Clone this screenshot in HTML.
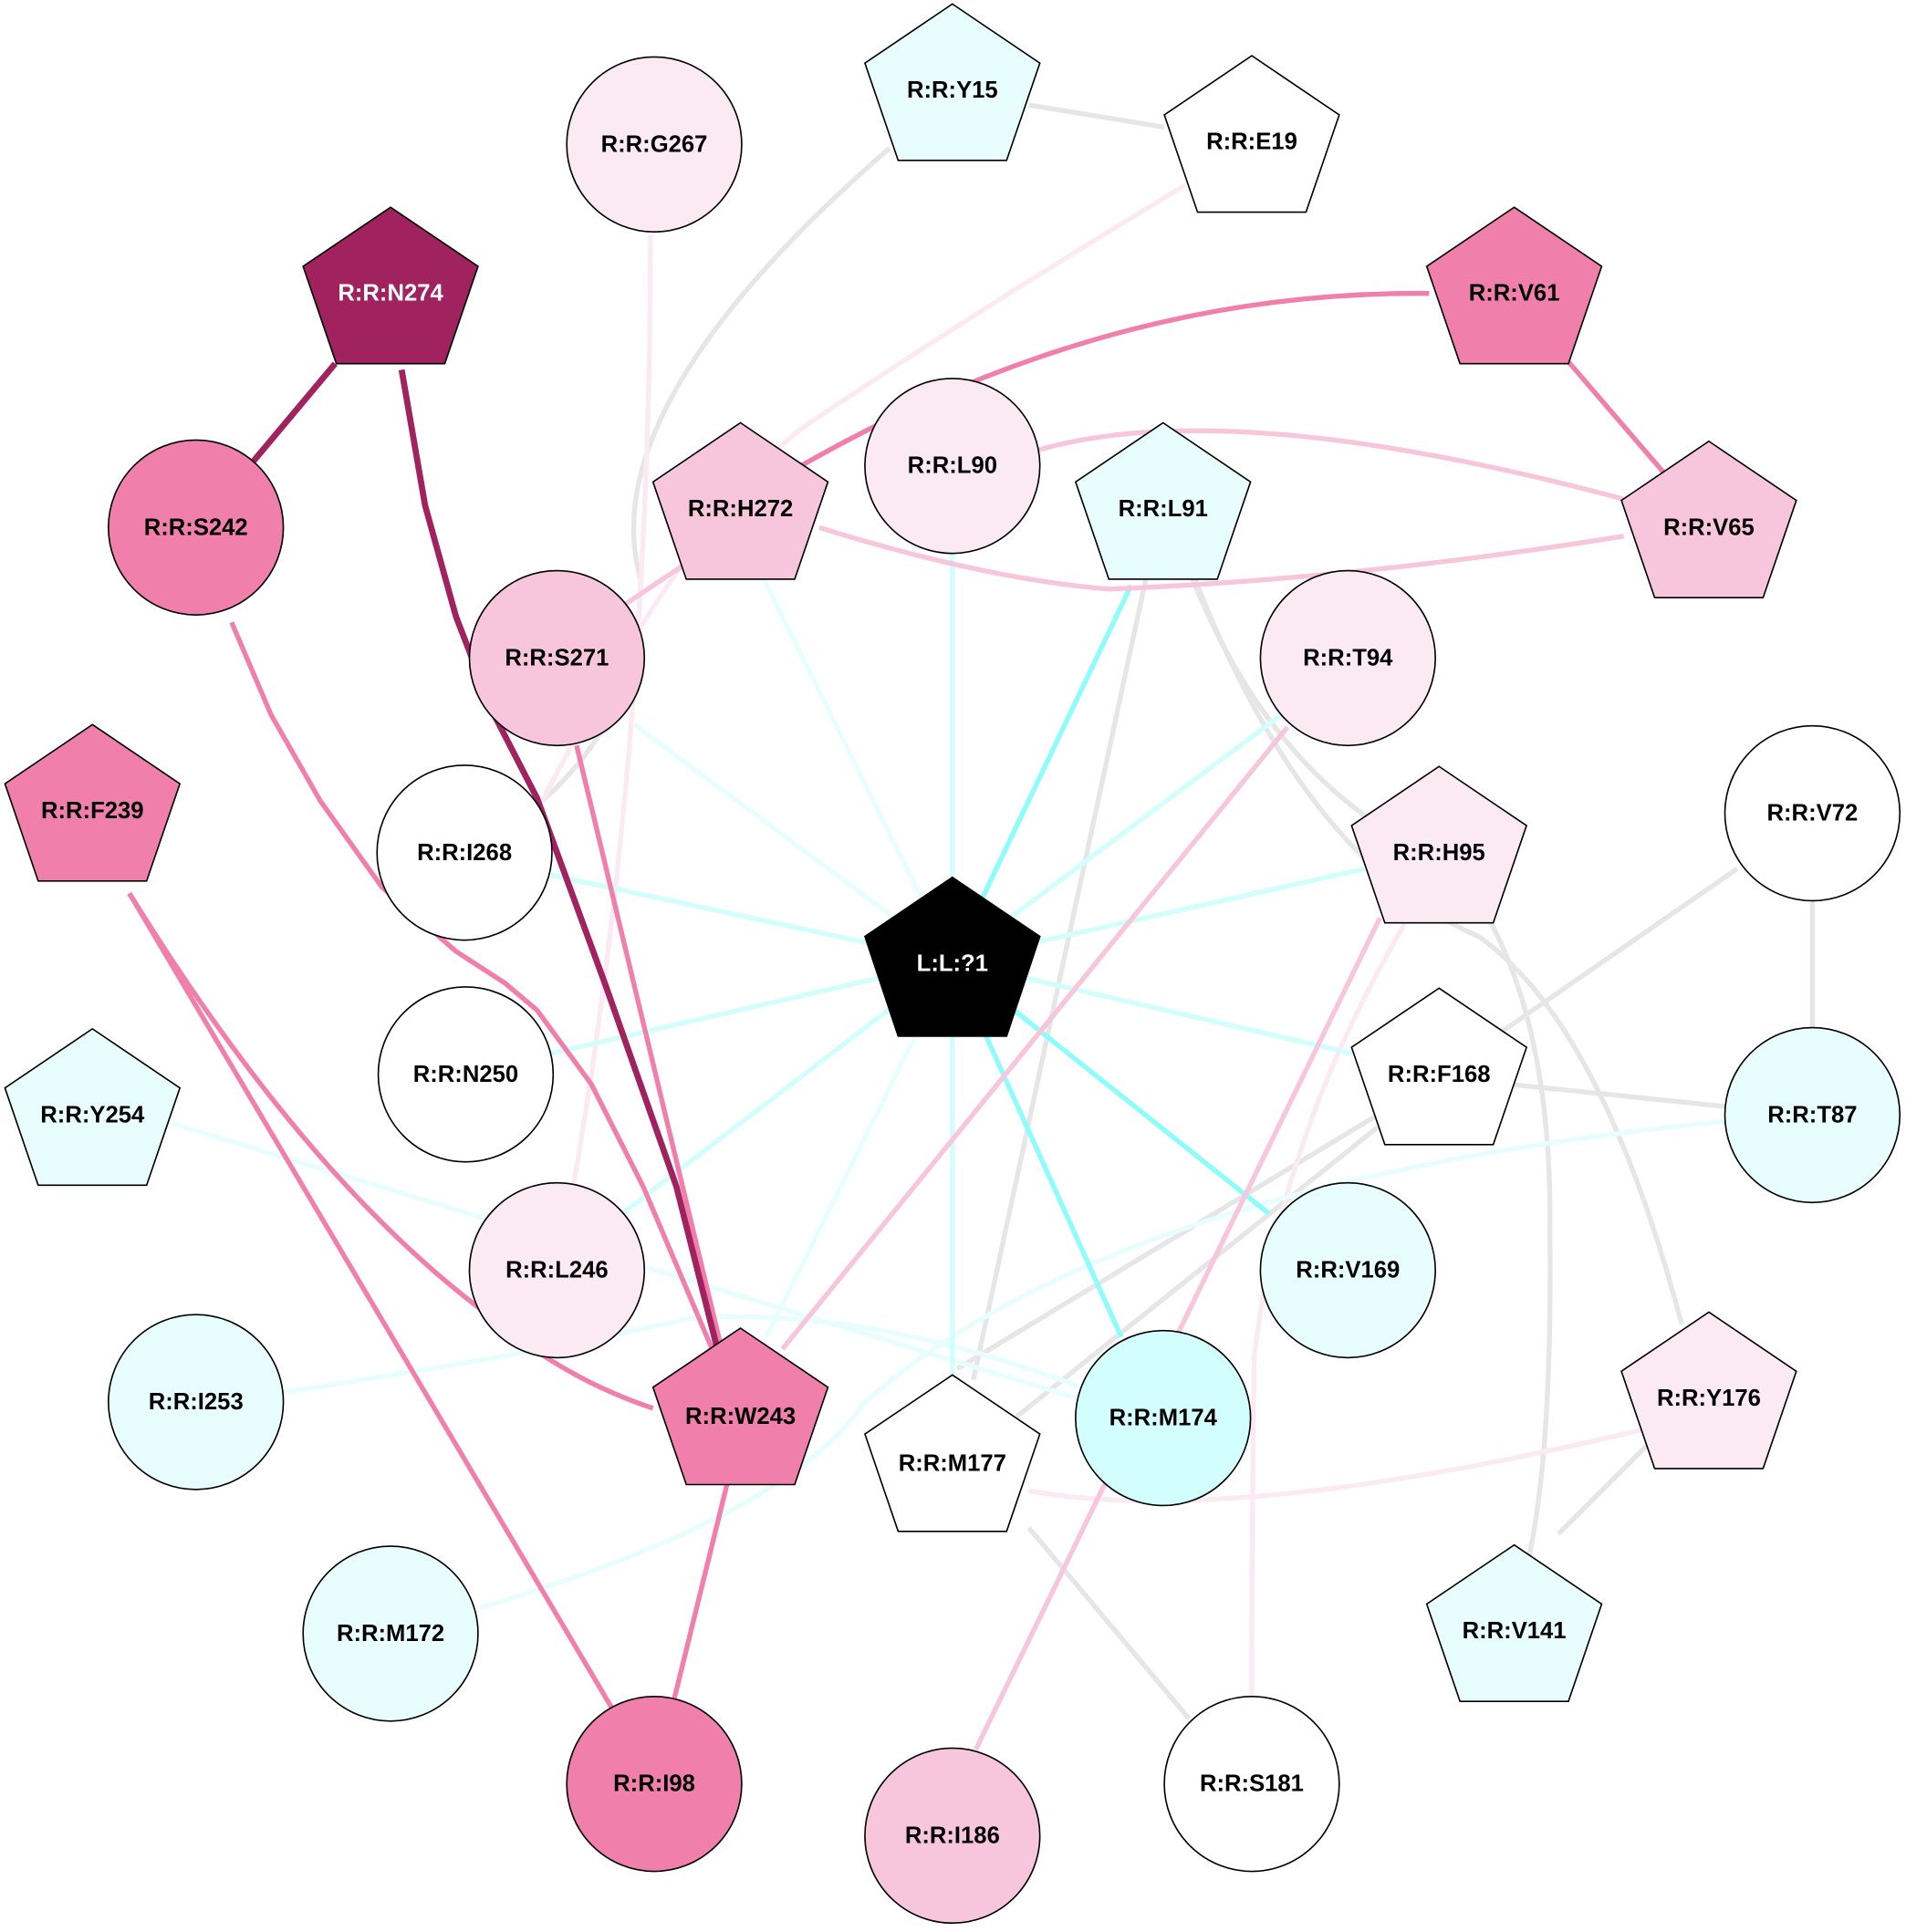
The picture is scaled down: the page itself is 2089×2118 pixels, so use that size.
<!DOCTYPE html>
<html><head><meta charset="utf-8"><style>html,body{margin:0;padding:0;background:#fff}svg{display:block}</style></head>
<body>
<svg width="2089" height="2118" viewBox="0 0 1547 1568" xmlns="http://www.w3.org/2000/svg" font-family="Liberation Sans, Arial, sans-serif" font-weight="bold" font-size="19">
<rect width="1547" height="1568" fill="#fff"/>
<g fill="none" stroke-width="4" stroke-linejoin="round">
<g stroke="#e6e6e6">
<line x1="835" y1="85" x2="945" y2="103"/>
<path d="M722,120 Q480,330 520,470 Q520,580 440,650"/>
<line x1="930" y1="470" x2="790" y2="1120"/>
<path d="M968,470 Q1020,600 1112,665"/>
<path d="M970,470 Q1060,700 1200,760 Q1300,830 1365,1075"/>
<path d="M1208,745 Q1260,840 1258,1000 Q1260,1180 1240,1268"/>
<line x1="1410" y1="705" x2="1215" y2="840"/>
<line x1="1471" y1="731" x2="1471" y2="834"/>
<line x1="1225" y1="880" x2="1400" y2="898"/>
<line x1="1118" y1="905" x2="777" y2="1111"/>
<line x1="1118" y1="915" x2="825" y2="1150"/>
<line x1="835" y1="1240" x2="965" y2="1395"/>
<line x1="1340" y1="1170" x2="1265" y2="1245"/>
</g>
<g stroke="#fbeaf2">
<path d="M962,150 Q780,260 650,348 Q560,420 440,650"/>
<path d="M528,190 Q528,600 465,965"/>
<path d="M1140,750 Q1040,920 1018,1100 Q1016,1250 1016,1378"/>
<path d="M1335,1160 Q1000,1240 835,1210"/>
</g>
<g stroke="#e8fefe">
<path d="M1400,910 Q900,960 700,1140 Q640,1230 390,1305"/>
<line x1="140" y1="912" x2="875" y2="1135"/>
<path d="M230,1130 Q430,1100 560,1070 Q700,1060 875,1125"/>
</g>
<line x1="773" y1="780" x2="620" y2="470" stroke="#e8fefe"/>
<line x1="773" y1="780" x2="773" y2="449" stroke="#d2fefe"/>
<line x1="773" y1="780" x2="918" y2="475" stroke="#8ffcfc"/>
<line x1="773" y1="780" x2="1040" y2="580" stroke="#d2fefe"/>
<line x1="773" y1="780" x2="1108" y2="705" stroke="#d2fefe"/>
<line x1="773" y1="780" x2="1098" y2="855" stroke="#d2fefe"/>
<line x1="773" y1="780" x2="1030" y2="985" stroke="#8ffcfc"/>
<line x1="773" y1="780" x2="910" y2="1085" stroke="#8ffcfc"/>
<line x1="773" y1="780" x2="773" y2="1116" stroke="#d2fefe"/>
<line x1="773" y1="780" x2="622" y2="1085" stroke="#e8fefe"/>
<line x1="773" y1="780" x2="505" y2="985" stroke="#d2fefe"/>
<line x1="773" y1="780" x2="447" y2="855" stroke="#d2fefe"/>
<line x1="773" y1="780" x2="447" y2="710" stroke="#d2fefe"/>
<line x1="773" y1="780" x2="515" y2="588" stroke="#e8fefe"/>
<g stroke="#f7c6dc">
<path d="M843,365 Q1000,320 1318,405"/>
<path d="M665,428 Q800,470 900,478 Q1100,470 1318,435"/>
<line x1="560" y1="455" x2="508" y2="490"/>
<line x1="1045" y1="590" x2="635" y2="1095"/>
<line x1="1120" y1="745" x2="792" y2="1420"/>
</g>
<g stroke="#f07fac">
<path d="M1160,238 Q900,235 650,378"/>
<line x1="1270" y1="290" x2="1350" y2="383"/>
<polyline points="188,505 220,580 260,650 310,720 370,772 410,798 436,820 480,880 522,963 578,1095"/>
<line x1="468" y1="605" x2="585" y2="1092"/>
<path d="M105,725 Q250,960 400,1070 Q460,1120 530,1143"/>
<line x1="105" y1="725" x2="497" y2="1387"/>
<line x1="590" y1="1205" x2="547" y2="1380"/>
</g>
<g stroke="#a0225e" stroke-width="5">
<line x1="272" y1="295" x2="205" y2="375"/>
<polyline points="326,300 345,410 370,500 400,578 436,648 492,801 549,963 583,1098"/>
</g>
</g>
<g stroke="#000" stroke-width="1.2">
<circle cx="531" cy="117" r="71" fill="#fbeaf2"/>
<circle cx="159" cy="428" r="71" fill="#f07fac"/>
<circle cx="773" cy="378" r="71" fill="#fbeaf2"/>
<circle cx="452" cy="534" r="71" fill="#f7c6dc"/>
<circle cx="1094" cy="534" r="71" fill="#fbeaf2"/>
<circle cx="377" cy="692" r="71" fill="#fff"/>
<circle cx="1471" cy="660" r="71" fill="#fff"/>
<circle cx="378" cy="872" r="71" fill="#fff"/>
<circle cx="1471" cy="905" r="71" fill="#e8fefe"/>
<circle cx="452" cy="1031" r="71" fill="#fbeaf2"/>
<circle cx="1094" cy="1031" r="71" fill="#e8fefe"/>
<circle cx="159" cy="1138" r="71" fill="#e8fefe"/>
<circle cx="944" cy="1151" r="71" fill="#d2fefe"/>
<circle cx="317" cy="1326" r="71" fill="#e8fefe"/>
<circle cx="531" cy="1448" r="71" fill="#f07fac"/>
<circle cx="773" cy="1490" r="71" fill="#f7c6dc"/>
<circle cx="1016" cy="1448" r="71" fill="#fff"/>
<polygon points="773,3 844,51 817,130 729,130 702,51" fill="#e8fefe"/>
<polygon points="1016,45 1087,93 1060,172 972,172 945,93" fill="#fff"/>
<polygon points="317,168 388,216 361,295 273,295 246,216" fill="#a0225e"/>
<polygon points="1229,168 1300,216 1273,295 1185,295 1158,216" fill="#f07fac"/>
<polygon points="601,343 672,391 645,470 557,470 530,391" fill="#f7c6dc"/>
<polygon points="944,343 1015,391 988,470 900,470 873,391" fill="#e8fefe"/>
<polygon points="1387,358 1458,406 1431,485 1343,485 1316,406" fill="#f7c6dc"/>
<polygon points="75,588 146,636 119,715 31,715 4,636" fill="#f07fac"/>
<polygon points="1168,622 1239,670 1212,749 1124,749 1097,670" fill="#fbeaf2"/>
<polygon points="773,712 844,760 817,841 729,841 702,760" fill="#000"/>
<polygon points="1168,802 1239,850 1212,929 1124,929 1097,850" fill="#fff"/>
<polygon points="75,835 146,883 119,962 31,962 4,883" fill="#e8fefe"/>
<polygon points="601,1078 672,1126 645,1205 557,1205 530,1126" fill="#f07fac"/>
<polygon points="773,1116 844,1164 817,1243 729,1243 702,1164" fill="#fff"/>
<polygon points="1387,1065 1458,1113 1431,1192 1343,1192 1316,1113" fill="#fbeaf2"/>
<polygon points="1229,1254 1300,1302 1273,1381 1185,1381 1158,1302" fill="#e8fefe"/>
</g>
<g text-anchor="middle" dominant-baseline="central" fill="#000">
<text x="531" y="117">R:R:G267</text>
<text x="159" y="428">R:R:S242</text>
<text x="773" y="378">R:R:L90</text>
<text x="452" y="534">R:R:S271</text>
<text x="1094" y="534">R:R:T94</text>
<text x="377" y="692">R:R:I268</text>
<text x="1471" y="660">R:R:V72</text>
<text x="378" y="872">R:R:N250</text>
<text x="1471" y="905">R:R:T87</text>
<text x="452" y="1031">R:R:L246</text>
<text x="1094" y="1031">R:R:V169</text>
<text x="159" y="1138">R:R:I253</text>
<text x="944" y="1151">R:R:M174</text>
<text x="317" y="1326">R:R:M172</text>
<text x="531" y="1448">R:R:I98</text>
<text x="773" y="1490">R:R:I186</text>
<text x="1016" y="1448">R:R:S181</text>
<text x="773" y="73">R:R:Y15</text>
<text x="1016" y="115">R:R:E19</text>
<text x="317" y="238" fill="#fff">R:R:N274</text>
<text x="1229" y="238">R:R:V61</text>
<text x="601" y="413">R:R:H272</text>
<text x="944" y="413">R:R:L91</text>
<text x="1387" y="428">R:R:V65</text>
<text x="75" y="658">R:R:F239</text>
<text x="1168" y="692">R:R:H95</text>
<text x="773" y="782" fill="#fff">L:L:?1</text>
<text x="1168" y="872">R:R:F168</text>
<text x="75" y="905">R:R:Y254</text>
<text x="601" y="1150">R:R:W243</text>
<text x="773" y="1188">R:R:M177</text>
<text x="1387" y="1135">R:R:Y176</text>
<text x="1229" y="1324">R:R:V141</text>
</g>
</svg>
</body></html>
